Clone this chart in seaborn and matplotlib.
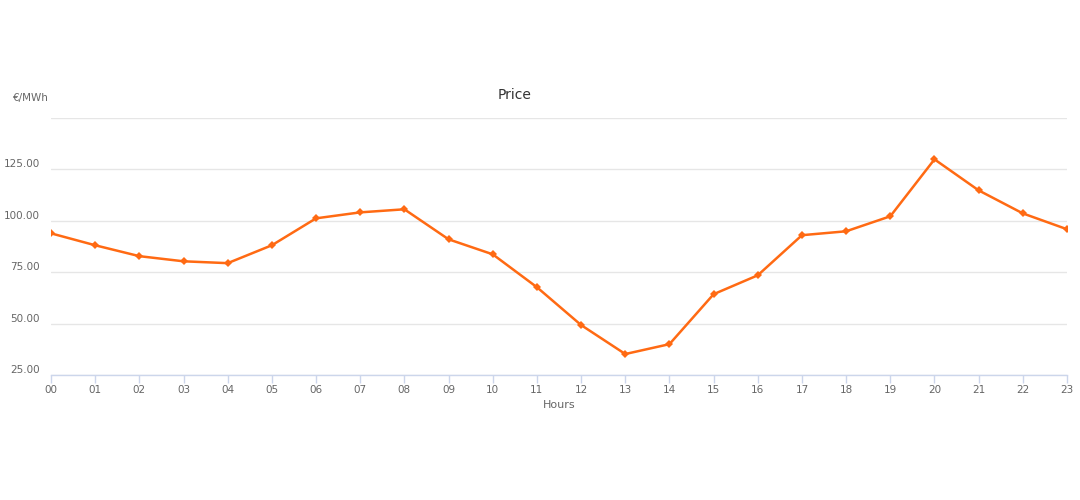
import numpy as np
import pandas as pd
import seaborn as sns
import matplotlib.pyplot as plt

# hourly price data
hours = ['00', '01', '02', '03', '04', '05', '06', '07', '08', '09', '10', '11',
         '12', '13', '14', '15', '16', '17', '18', '19', '20', '21', '22', '23']
price = [93.9, 88.1, 82.8, 80.3, 79.4, 88.1, 101.2, 104.1, 105.6, 91.0, 83.7, 67.7,
         49.3, 35.2, 40.0, 64.3, 73.5, 93.0, 94.9, 102.2, 129.9, 114.8, 103.6, 95.9]
y_ticks = [25, 50, 75, 100, 125, 150]

df = pd.DataFrame({'hour': np.arange(len(hours)), 'price': price})

sns.set_theme(style='white')
plt.rcParams['font.family'] = ['DejaVu Sans']

fig = plt.figure(figsize=(10.8, 5.0), dpi=100)
ax = fig.add_axes([51 / 1080, 0.25, (1067 - 51) / 1080, (375 - 118) / 500])

sns.lineplot(x='hour', y='price', data=df, ax=ax, color='#ff6a13', linewidth=1.8,
             marker='D', markersize=4.5, markeredgewidth=0)

ax.set_xlim(0, len(hours) - 1)
ax.set_ylim(25, 150)
ax.set_xticks(np.arange(len(hours)))
ax.set_xticklabels(hours)
ax.set_yticks(y_ticks)
ax.set_yticklabels(['%.2f' % v if v < 150 else '' for v in y_ticks])
for lab in ax.get_yticklabels():
    lab.set_verticalalignment('bottom')

ax.grid(axis='y', color='#e6e6e6', linewidth=1)
ax.set_axisbelow(True)
for side in ['top', 'right', 'left']:
    ax.spines[side].set_visible(False)
ax.spines['bottom'].set_color('#ccd6eb')
ax.spines['bottom'].set_linewidth(1)

ax.tick_params(axis='x', colors='#ccd6eb', labelcolor='#666666', labelsize=7.5,
               length=6, width=1, direction='out', pad=1)
ax.tick_params(axis='y', length=0, labelcolor='#666666', labelsize=7.5, pad=8)
ax.xaxis.set_tick_params(bottom=True)

ax.set_xlabel('Hours', fontsize=8, color='#666666', labelpad=3.5)
ax.set_ylabel('')

fig.text(515 / 1080, 1 - 95 / 500, 'Price', ha='center', va='center',
         fontsize=10, color='#333333')
fig.text(13 / 1080, 1 - 98 / 500, '€/MWh', ha='left', va='center',
         fontsize=7.5, color='#666666')

fig.savefig('out.png', dpi=100, facecolor='white')
